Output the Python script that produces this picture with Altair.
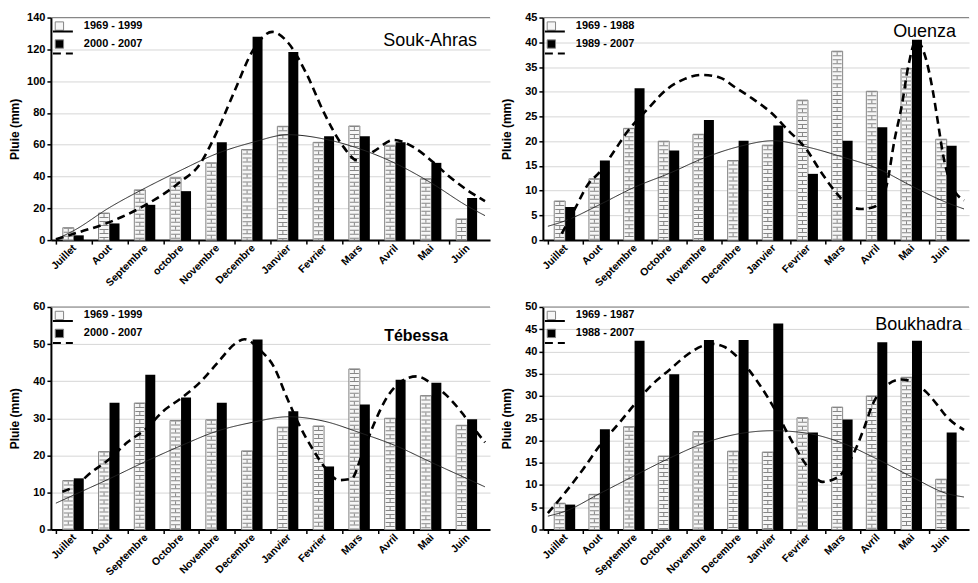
import json
import altair as alt
import pandas as pd

# ---------------- data ----------------
months_sa = ["Juillet", "Aout", "Septembre", "octobre", "Novembre", "Decembre",
             "Janvier", "Fevrier", "Mars", "Avril", "Mai", "Juin"]
months = ["Juillet", "Aout", "Septembre", "Octobre", "Novembre", "Decembre",
          "Janvier", "Fevrier", "Mars", "Avril", "Mai", "Juin"]

# Souk-Ahras
souk_p1 = [7.8, 17, 31.6, 39.2, 48.6, 57, 71.6, 61.5, 71.8, 59.3, 38.6, 13.3]
souk_p2 = [3, 10.5, 22.2, 30.8, 61.5, 128, 118.4, 65.4, 65.4, 61.5, 48.6, 26.5]
souk_t1x = [0, 0.5, 1.5, 2.5, 3.5, 4.5, 5.5, 6.5, 7.5, 8.5, 9.5, 10.5, 11.5, 12]
souk_t1y = [0.5, 6, 20.5, 32.8, 44, 54.4, 61.5, 66.3, 63.6, 57.4, 48.2, 35.9, 21.5, 15.4]
souk_t2x = [0, 0.5, 1.5, 2.5, 3.5, 4.0, 4.5, 5.0, 5.5, 6.05, 6.5, 7.0, 7.5, 8.0, 8.45,
            8.9, 9.45, 10.0, 10.5, 11.0, 11.5, 12]
souk_t2y = [0.5, 4, 11.3, 22, 37, 47, 68, 94, 119, 131, 124, 105, 80, 60, 50,
            56, 63, 58.5, 50, 40, 31.5, 24.5]

# Ouenza
oue_p1 = [7.9, 12.4, 22.6, 20, 21.4, 16.1, 19.2, 28.3, 38.2, 30.1, 34.7, 20.4]
oue_p2 = [6.7, 16.1, 30.7, 18.1, 24.3, 20.1, 23.2, 13.4, 20.1, 22.8, 40.5, 19.1]
oue_t1x = [0, 0.5, 1.5, 2.5, 3.5, 4.5, 5.5, 6.5, 7.5, 8.5, 9.5, 10.5, 11.5, 12]
oue_t1y = [2.8, 3.9, 7.2, 10.7, 13.5, 16.6, 18.9, 20.1, 18.8, 16.8, 14.5, 10.9, 7.6, 6.3]
oue_t2x = [0.4, 0.8, 1.15, 1.5, 1.95, 2.3, 2.85, 3.45, 3.95, 4.45, 4.95, 5.4, 5.9,
           6.45, 6.9, 7.45, 7.9, 8.35, 8.7, 9.05, 9.4, 9.75, 10.0, 10.2, 10.4, 10.62,
           10.9, 11.1, 11.25, 11.4, 11.6, 12]
oue_t2y = [1.3, 6.6, 11.2, 13.8, 18.4, 22, 26.3, 30.6, 32.6, 33.4, 32.9, 30.9, 28.6,
           25.7, 22.4, 18.4, 13.5, 9.3, 6.8, 6.3, 6.7, 10.6, 20.4, 27, 35.4, 40.4,
           36.7, 30.2, 23.7, 17.1, 11.8, 8]

# Tebessa
teb_p1 = [13.2, 21, 34.1, 29.4, 29.6, 21.2, 27.6, 27.9, 43.3, 30, 36.1, 28.1]
teb_p2 = [13.8, 34.2, 41.7, 35.6, 34.2, 51.2, 31.9, 17, 33.7, 40.4, 39.6, 29.7]
teb_t1x = [0, 0.5, 1.5, 2.5, 3.5, 4.5, 5.5, 6.5, 7.5, 8.5, 9.5, 10.5, 11.5, 12]
teb_t1y = [7.1, 9.3, 13.7, 18.3, 22.6, 26.5, 28.9, 30.4, 29.2, 26.1, 22.6, 18.1, 13.7, 11.5]
teb_t2x = [0.18, 0.5, 1.0, 1.5, 2.0, 2.5, 3.0, 3.5, 4.0, 4.5, 5.0, 5.27, 5.73, 6.1,
           6.45, 6.82, 7.18, 7.55, 7.91, 8.27, 8.55, 8.91, 9.27, 9.64, 10.09, 10.5,
           10.91, 11.36, 11.5, 12]
teb_t2y = [10.2, 11.5, 15.5, 19, 23.5, 27, 31.9, 35.4, 39.4, 44.7, 50, 51.3, 48.2, 43.8,
           35.8, 27.9, 21.7, 16.4, 13.3, 13.7, 19.9, 28.8, 35.8, 39.8, 41.3, 39.4,
           36.3, 31.4, 29.6, 23.5]

# Boukhadra
bou_p1 = [5.9, 7.9, 23.1, 16.5, 22, 17.6, 17.4, 25.1, 27.5, 30, 34.2, 11.3]
bou_p2 = [5.6, 22.5, 42.4, 34.9, 42.6, 42.6, 46.3, 21.8, 24.7, 42.1, 42.4, 21.8]
bou_t1x = [0, 0.5, 1.5, 2.5, 3.5, 4.5, 5.5, 6.5, 7.5, 8.5, 9.5, 10.5, 11.5, 12]
bou_t1y = [3, 4.1, 8.1, 12.1, 16, 19.4, 21.5, 22.2, 21.6, 19.4, 15.8, 11.8, 8.1, 7.3]
bou_t2x = [0, 0.52, 1.02, 1.52, 2.01, 2.51, 3.01, 3.51, 4.01, 4.51, 4.74, 5.1, 5.5,
           6.1, 6.56, 7.01, 7.47, 7.92, 8.37, 8.83, 9.1, 9.37, 9.74, 10.19, 10.47,
           10.92, 11.28, 11.46, 12]
bou_t2y = [3.7, 8.5, 13.6, 19.1, 23.5, 28.2, 32.6, 35.9, 39.2, 41.4, 41.7, 41, 38.5,
           32.6, 26.8, 20.2, 14.3, 10.7, 11.8, 17.3, 22.4, 28.2, 32.2, 33.7, 33.3,
           30.8, 27.5, 25.7, 22.4]

FONT = "Liberation Sans"
HATCH_BG = "#f6f6f6"
HATCH_LINE = "#858585"


def panel(station, mlist, lab1, lab2, b1, b2, t1x, t1y, t2x, t2y, ymax, ystep,
          w, h, tsize, tweight, tdown, tdx):
    pos = [i + 0.5 for i in range(12)]
    d1 = pd.DataFrame({"pos": pos, "v": b1, "period": [lab1] * 12})
    d2 = pd.DataFrame({"pos": pos, "v": b2, "period": [lab2] * 12})
    l1 = pd.DataFrame({"pos": t1x, "v": t1y, "series": [lab1] * len(t1x)})
    l2 = pd.DataFrame({"pos": t2x, "v": t2y, "series": [lab2] * len(t2x)})
    top = pd.DataFrame({"v": [ymax]})
    name = pd.DataFrame({"name": [station]})
    band = w / 12.0
    label_expr = "(" + json.dumps(mlist) + ")[datum.value]"

    xaxis = alt.Axis(values=list(range(12)), labelExpr=label_expr, labelOffset=band / 2,
                     labelAngle=-45, labelAlign="right", labelBaseline="middle",
                     labelOverlap=False, labelFlush=False, grid=False, title=None,
                     labelPadding=2, labelFontSize=10.5, minExtent=45, maxExtent=45)
    xscale = alt.Scale(domain=[0, 12], nice=False, zero=False)
    x = alt.X("pos:Q", scale=xscale, axis=xaxis)
    yscale = alt.Scale(domain=[0, ymax], nice=False)
    yaxis = alt.Axis(values=list(range(0, ymax + 1, ystep)), title="Pluie (mm)",
                     labelFlush=False, minExtent=26, maxExtent=26, titlePadding=3)
    y = alt.Y("v:Q", scale=yscale, axis=yaxis, title="Pluie (mm)")
    fscale = alt.Scale(domain=[lab1, lab2], range=[HATCH_BG, "black"])
    legend = alt.Legend(title=None, orient="top-left", offset=3, padding=0,
                        symbolType="square", symbolSize=70, rowPadding=5,
                        labelOffset=19, labelFont=FONT, labelFontSize=11,
                        labelFontWeight="bold", labelColor="black",
                        symbolStrokeColor=HATCH_LINE, symbolStrokeWidth=1)
    fill = alt.Fill("period:N", scale=fscale, legend=legend)
    dscale = alt.Scale(domain=[lab1, lab2], range=[[1, 0], [8, 5]])
    dlegend = alt.Legend(title=None, orient="none", legendX=1, legendY=3, padding=0,
                         symbolType="stroke", symbolSize=400, rowPadding=7,
                         symbolStrokeWidth=2, symbolStrokeColor="black",
                         labelExpr="''", labelFontSize=1)
    dash = alt.StrokeDash("series:N", scale=dscale, legend=dlegend)

    hatch = alt.Chart(d1).mark_bar(width=11, xOffset=-5.5, stroke=HATCH_LINE,
                                   strokeWidth=1).encode(x=x, y=y, fill=fill)
    mortar = alt.Chart(d1).mark_rule(xOffset=-5.5, strokeWidth=9, color=HATCH_LINE,
                                     strokeDash=[1, 3]).encode(x=x, y=y, y2=alt.datum(0))
    joints = alt.Chart(d1).mark_rule(xOffset=-5.5, strokeWidth=1, color=HATCH_LINE,
                                     strokeDash=[0, 1, 3, 4]).encode(x=x, y=y, y2=alt.datum(0))
    black = alt.Chart(d2).mark_bar(width=10, xOffset=5).encode(x=x, y=y, fill=fill)
    line1 = alt.Chart(l1).mark_line(color="#222222", strokeWidth=1,
                                    interpolate="monotone").encode(x=x, y=y, strokeDash=dash)
    line2 = alt.Chart(l2).mark_line(color="black", strokeWidth=2.6,
                                    interpolate="monotone").encode(x=x, y=y, strokeDash=dash)
    toprule = alt.Chart(top).mark_rule(color="#808080", strokeWidth=1).encode(y=y)
    label = alt.Chart(name).mark_text(align="right", baseline="alphabetic", dx=tdx,
                                      dy=tdown, font=FONT, fontSize=tsize,
                                      fontWeight=tweight, color="black").encode(
        x=alt.X(datum=12, type="quantitative", scale=xscale, axis=xaxis),
        y=alt.Y(datum=ymax, type="quantitative", scale=yscale, axis=yaxis,
                title="Pluie (mm)"),
        text="name:N")

    return alt.layer(hatch, mortar, joints, black, line1, line2, toprule, label).properties(
        width=w, height=h)


W1, W2, H = 440, 427, 223
p1 = panel("Souk-Ahras", months_sa, "1969 - 1999", "2000 - 2007", souk_p1, souk_p2,
           souk_t1x, souk_t1y, souk_t2x, souk_t2y, 140, 20, W1, H, 18, "normal", 28, -8)
p2 = panel("Ouenza", months, "1969 - 1988", "1989 - 2007", oue_p1, oue_p2,
           oue_t1x, oue_t1y, oue_t2x, oue_t2y, 45, 5, W2, H, 18, "normal", 19, -8)
p3 = panel("Tébessa", months, "1969 - 1999", "2000 - 2007", teb_p1, teb_p2,
           teb_t1x, teb_t1y, teb_t2x, teb_t2y, 60, 10, W1, H, 16, "bold", 34, -37)
p4 = panel("Boukhadra", months, "1969 - 1987", "1988 - 2007", bou_p1, bou_p2,
           bou_t1x, bou_t1y, bou_t2x, bou_t2y, 50, 5, W2, H, 18, "normal", 23, -2)

row1 = alt.hconcat(p1, p2, spacing=10).resolve_scale(
    fill="independent", strokeDash="independent", y="independent")
row2 = alt.hconcat(p3, p4, spacing=10).resolve_scale(
    fill="independent", strokeDash="independent", y="independent")

chart = alt.vconcat(row1, row2, spacing=12).resolve_scale(
    fill="independent", strokeDash="independent", y="independent", x="independent"
).properties(
    padding={"left": 1, "top": 3, "right": 0, "bottom": 0},
    background="white",
).configure_view(strokeWidth=0).configure_axis(
    labelFont=FONT, labelFontWeight="bold", labelFontSize=11, labelColor="black",
    domainColor="black", domainWidth=2, tickColor="black", tickWidth=1.5, tickSize=4,
    titleFont=FONT, titleFontWeight="bold", titleFontSize=12, titleColor="black",
    gridColor="#d6d6d6", gridWidth=1,
)

chart.save("out.html", embed_options={"renderer": "svg", "actions": False})
